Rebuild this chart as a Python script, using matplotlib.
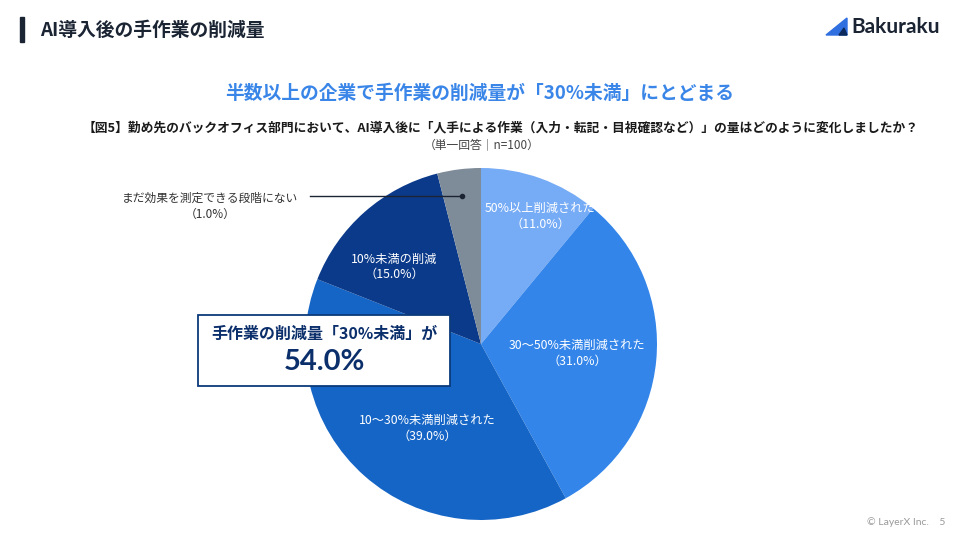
import numpy as np
import matplotlib
matplotlib.use("Agg")
import matplotlib.pyplot as plt
from matplotlib.patches import Rectangle, Polygon

plt.rcParams['font.family'] = ['Noto Sans CJK JP', 'DejaVu Sans']

# data
categories = ['50%以上削減された', '30〜50%未満削減された', '10〜30%未満削減された',
              '10%未満の削減', 'まだ効果を測定できる段階にない']
shares = [11, 31, 39, 15, 4]          # slice sizes as drawn
label_pcts = ['11.0%', '31.0%', '39.0%', '15.0%', '1.0%']
colors = ['#76abf6', '#3385ea', '#1565c6', '#0b3a8a', '#7e8b98']
label_dist = [0.80, 0.55, 0.57, 0.66]
label_shift = [-5, 0, 9, 7]   # degrees, nudging labels inside their slice

title = 'AI導入後の手作業の削減量'
headline = '半数以上の企業で手作業の削減量が「30%未満」にとどまる'
question = '【図5】勤め先のバックオフィス部門において、AI導入後に「人手による作業（入力・転記・目視確認など）」の量はどのように変化しましたか？'
note = '（単一回答｜n=100）'
callout_text = '手作業の削減量「30%未満」が'
callout_value = '54.0%'

W, H = 960, 540
fig = plt.figure(figsize=(W / 100, H / 100), dpi=100)
fig.patch.set_facecolor('white')

# overlay axes in pixel coords (y down)
bg = fig.add_axes([0, 0, 1, 1])
bg.set_xlim(0, W)
bg.set_ylim(H, 0)
bg.axis('off')

# header
bg.add_patch(Rectangle((20, 17), 4, 25, color='#1b2433'))
bg.text(40, 30, title, fontsize=13.5, fontweight='bold', color='#1b2433', va='center')

# logo
bg.add_patch(Polygon([(826, 35), (847, 18), (847, 35)], closed=True, color='#2f6fe0'))
bg.add_patch(Polygon([(839, 35), (844, 28), (847, 35)], closed=True, color='#0d2a5c'))
bg.text(851, 27, 'Bakuraku', fontsize=15, fontweight='bold', color='#1b2433', va='center',
        family=['Lato', 'DejaVu Sans'])

# headline and question
bg.text(480, 93, headline, fontsize=13.5, fontweight='bold', color='#3a86e8', ha='center', va='center')
bg.text(501, 128, question, fontsize=9.2, fontweight='bold', color='#1a1a1a', ha='center', va='center')
bg.text(482, 145, note, fontsize=8.5, color='#444444', ha='center', va='center')

# footer
bg.text(945, 522, '© LayerX Inc.    5', fontsize=7.5, color='#9a9a9a', ha='right', va='center',
        family=['Lato', 'DejaVu Sans'])

# pie
cx, cy, r = 481, 344, 176
ax = fig.add_axes([(cx - r) / W, (H - cy - r) / H, 2 * r / W, 2 * r / H])
wedges, _ = ax.pie(shares, colors=colors, startangle=90, counterclock=False,
                   wedgeprops=dict(linewidth=0))
ax.set_xlim(-1, 1)
ax.set_ylim(-1, 1)
ax.set_aspect('equal')
ax.axis('off')

for w, cat, pct, d, s in zip(wedges[:4], categories[:4], label_pcts[:4], label_dist, label_shift):
    mid = np.deg2rad((w.theta1 + w.theta2) / 2 + s)
    ax.text(d * np.cos(mid), d * np.sin(mid), f'{cat}\n（{pct}）', color='white',
            fontsize=8.8, ha='center', va='center', linespacing=1.25)

# top overlay for callouts
top = fig.add_axes([0, 0, 1, 1])
top.set_xlim(0, W)
top.set_ylim(H, 0)
top.axis('off')
top.patch.set_alpha(0)

# callout for the small gray slice
g = wedges[4]
gmid = np.deg2rad((g.theta1 + g.theta2) / 2)
dot_x = cx + 0.86 * r * np.cos(gmid)
dot_y = cy - 0.85 * r * np.sin(gmid)
top.plot([310, dot_x], [dot_y, dot_y], color='#1b2433', lw=1)
top.plot([dot_x], [dot_y], 'o', color='#1b2433', markersize=3)
top.text(210, 206, f'{categories[4]}\n（{label_pcts[4]}）', fontsize=8.5, color='#333333',
         ha='center', va='center', linespacing=1.3)

# summary box
top.add_patch(Rectangle((198, 315), 252, 71, facecolor='white', edgecolor='#0b3a7a', lw=1.3))
top.text(324, 334, callout_text, fontsize=11.5, fontweight='bold', color='#0b2f6b',
         ha='center', va='center')
top.text(324, 362, callout_value, fontsize=21, fontweight='bold', color='#0b2f6b',
         ha='center', va='center', family=['Lato', 'DejaVu Sans'])

fig.savefig('out.png', dpi=100, facecolor='white')
